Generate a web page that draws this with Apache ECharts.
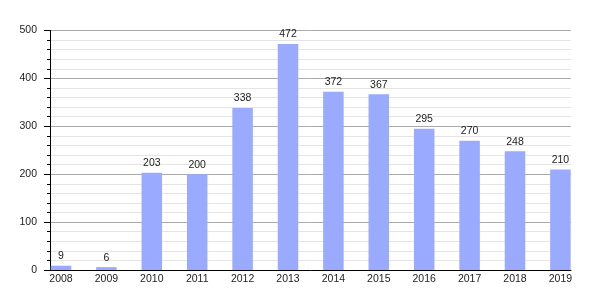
<!DOCTYPE html>
<html>
<head>
<meta charset="utf-8">
<script src="https://cdn.jsdelivr.net/npm/echarts@6/dist/echarts.min.js"></script>
<style>
html,body{margin:0;padding:0;background:#fff;}
#c{width:600px;height:300px;}
</style>
</head>
<body>
<div id="c"></div>
<script>
const years = [2008, 2009, 2010, 2011, 2012, 2013, 2014, 2015, 2016, 2017, 2018, 2019];
const counts = [9, 6, 203, 200, 338, 472, 372, 367, 295, 270, 248, 210];
const yTicks = [0, 100, 200, 300, 400, 500];

const chart = echarts.init(document.getElementById('c'), null, {renderer: 'canvas'});
const font = 'Liberation Sans, Arial, sans-serif';
chart.setOption({
  animation: false,
  grid: {left: 50, right: 29, top: 30.5, bottom: 30, containLabel: false},
  xAxis: {
    type: 'value',
    min: 2007.7577,
    max: 2019.2335,
    axisLine: {show: true, lineStyle: {color: '#000', width: 1}},
    axisTick: {show: false},
    splitLine: {show: false},
    axisLabel: {
      customValues: years,
      margin: 4,
      color: '#222',
      fontFamily: font,
      fontSize: 10.5,
      formatter: v => String(Math.round(v))
    }
  },
  yAxis: {
    type: 'value',
    min: yTicks[0],
    max: yTicks[yTicks.length - 1],
    interval: 100,
    axisLine: {show: true, lineStyle: {color: '#000', width: 1}},
    axisTick: {show: true, length: 6, lineStyle: {color: '#000'}},
    minorTick: {show: true, splitNumber: 5, length: 3, lineStyle: {color: '#000'}},
    splitLine: {show: true, lineStyle: {color: '#aaaaaa', width: 1}},
    minorSplitLine: {show: true, lineStyle: {color: '#e4e4e4', width: 1}},
    axisLabel: {
      margin: 13,
      color: '#222',
      fontFamily: font,
      fontSize: 10.5
    }
  },
  series: [{
    type: 'bar',
    data: years.map((y, i) => [y, counts[i]]),
    barWidth: 20.5,
    itemStyle: {color: '#99aaff'},
    label: {
      show: true,
      position: 'top',
      distance: 4,
      color: '#222',
      fontFamily: font,
      fontSize: 10.5,
      formatter: p => String(p.value[1])
    }
  }]
});
</script>
</body>
</html>
